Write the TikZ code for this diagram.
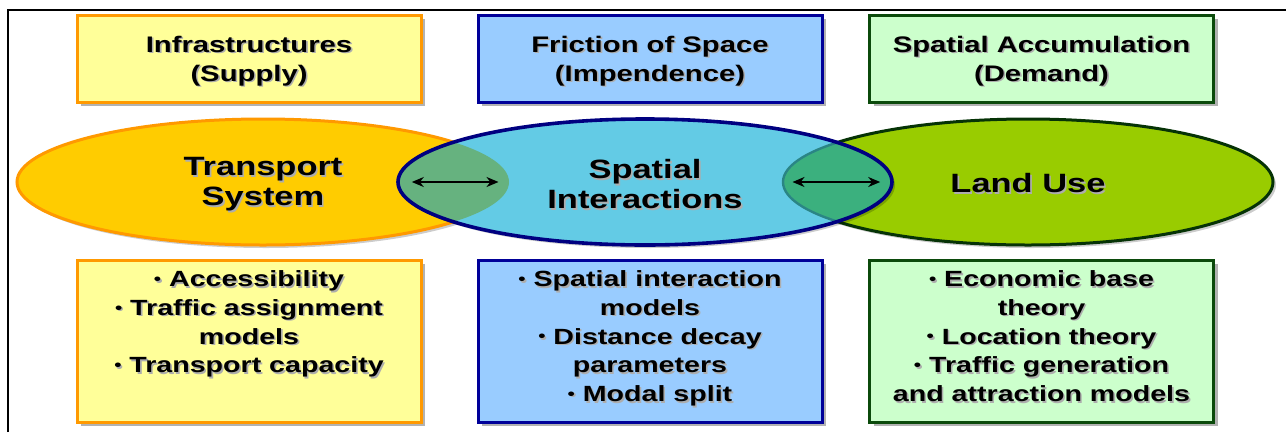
\documentclass[tikz,border=0pt]{standalone}
\usepackage{fontspec}
\usepackage{graphicx}
\newfontfamily\lab{Liberation Sans}[FakeStretch=1.3]
\usetikzlibrary{shapes.geometric,shadows,arrows.meta}

\definecolor{supplyfill}{HTML}{FFFF99}
\definecolor{supplyline}{HTML}{FF9900}
\definecolor{frictfill}{HTML}{99CCFF}
\definecolor{frictline}{HTML}{000099}
\definecolor{demfill}{HTML}{CCFFCC}
\definecolor{demline}{HTML}{0B4A0B}
\definecolor{tsfill}{HTML}{FFCC00}
\definecolor{sifill}{HTML}{63CBE5}
\definecolor{siline}{HTML}{000080}
\definecolor{lufill}{HTML}{99CC00}
\definecolor{luline}{HTML}{063306}
\definecolor{ovleft}{HTML}{66B27F}
\definecolor{ovright}{HTML}{3BB07E}
\definecolor{ovedge}{HTML}{2A8585}

% one line of text with a soft grey drop shadow
\newcommand\shl[1]{\leavevmode\rlap{\hspace{1.6pt}\raisebox{-1.6pt}{\color{black!32}#1}}#1}
% small list bullet
\newcommand\bul{\raisebox{2.2pt}{\scalebox{0.72}{•}}}

\begin{document}
\begin{tikzpicture}[x=1pt,y=-1pt,
  boxshape/.style={draw, line width=3pt, rectangle, inner sep=0pt,
    minimum width=344pt,
    drop shadow={shadow xshift=4pt, shadow yshift=-4pt, opacity=0.3, fill=black}},
  headbox/.style={boxshape, minimum height=87pt},
  listbox/.style={boxshape, minimum height=162pt},
  headtext/.style={inner sep=0pt, align=center,
    font=\lab\bfseries\fontsize{22.5}{29}\selectfont},
  listtext/.style={inner sep=0pt, align=center, anchor=north,
    font=\lab\bfseries\fontsize{22}{28.7}\selectfont},
  oval/.style={ellipse, inner sep=0pt, minimum height=126pt,
    drop shadow={shadow xshift=3pt, shadow yshift=-3pt, opacity=0.2, fill=black}},
  ovaltext/.style={inner sep=0pt, align=center,
    font=\lab\bfseries\fontsize{26.5}{30}\selectfont},
  linkarrow/.style={line width=2.6pt,
    {Stealth[length=12pt,width=10pt]}-{Stealth[length=12pt,width=10pt]}}
]
\useasboundingbox (0,0) rectangle (1286,432);
\fill[white] (0,0) rectangle (1286,432);

% frame
\coordinate (fa) at (8,432);
\coordinate (fb) at (8,10);
\coordinate (fc) at (1286,10);
\draw[line width=2.4pt] (fa) -- (fb) -- (fc);

% heading boxes
\node[headbox, fill=supplyfill, draw=supplyline] (h1) at (249,58.5) {};
\node[headbox, fill=frictfill, draw=frictline] (h2) at (650,58.5) {};
\node[headbox, fill=demfill, draw=demline] (h3) at (1041.5,58.5) {};
\node[headtext] (h1t) at ([yshift=-3pt]h1.center) {\shl{Infrastructures}\\\shl{(Supply)}};
\node[headtext] (h2t) at ([yshift=-3pt]h2.center) {\shl{Friction of Space}\\\shl{(Impendence)}};
\node[headtext] (h3t) at ([yshift=-3pt]h3.center) {\shl{Spatial Accumulation}\\\shl{(Demand)}};

% the three ovals
\coordinate (cT) at (263,182);
\coordinate (cS) at (645,182);
\coordinate (cL) at (1028,182);
\node[oval, minimum width=492pt, fill=tsfill, draw=supplyline, line width=3pt] (ts) at (cT) {};
\node[oval, minimum width=490pt, fill=lufill, draw=luline, line width=3pt] (lu) at (cL) {};
\node[oval, minimum width=494pt, fill=sifill] (si) at (cS) {};

% overlaps of the middle oval with its neighbours
\begin{scope}
  \clip (cS) ellipse [x radius=247pt, y radius=63pt];
  \fill[ovleft] (cT) ellipse [x radius=246pt, y radius=63pt];
  \fill[ovright] (cL) ellipse [x radius=245pt, y radius=63pt];
  \draw[ovedge, line width=2.4pt] (cL) ellipse [x radius=245pt, y radius=63pt];
\end{scope}
\draw[siline, line width=3.6pt] (cS) ellipse [x radius=247pt, y radius=63pt];

% oval labels
\node[ovaltext] (tst) at ([yshift=-3pt]ts.center) {\shl{Transport}\\\shl{System}};
\node[ovaltext] (sit) at ([yshift=-3pt]si.center) {\shl{Spatial}\\\shl{Interactions}};
\node[ovaltext] (lut) at ([yshift=-2pt]lu.center) {\shl{Land Use}};

% links
\draw[linkarrow] ([xshift=14pt]si.west) -- ([xshift=-12pt]ts.east);
\draw[linkarrow] ([xshift=11pt]lu.west) -- ([xshift=-12pt]si.east);

% list boxes
\node[listbox, fill=supplyfill, draw=supplyline] (b1) at (249,341) {};
\node[listbox, fill=frictfill, draw=frictline] (b2) at (650,341) {};
\node[listbox, fill=demfill, draw=demline] (b3) at (1041.5,341) {};
\node[listtext] (b1t) at ([yshift=-12pt]b1.north)
  {\shl{\bul\ Accessibility}\\\shl{\bul\ Traffic assignment}\\\shl{models}\\\shl{\bul\ Transport capacity}};
\node[listtext] (b2t) at ([yshift=-12pt]b2.north)
  {\shl{\bul\ Spatial interaction}\\\shl{models}\\\shl{\bul\ Distance decay}\\\shl{parameters}\\\shl{\bul\ Modal split}};
\node[listtext] (b3t) at ([yshift=-12pt]b3.north)
  {\shl{\bul\ Economic base}\\\shl{theory}\\\shl{\bul\ Location theory}\\\shl{\bul\ Traffic generation}\\\shl{and attraction models}};
\end{tikzpicture}
\end{document}
